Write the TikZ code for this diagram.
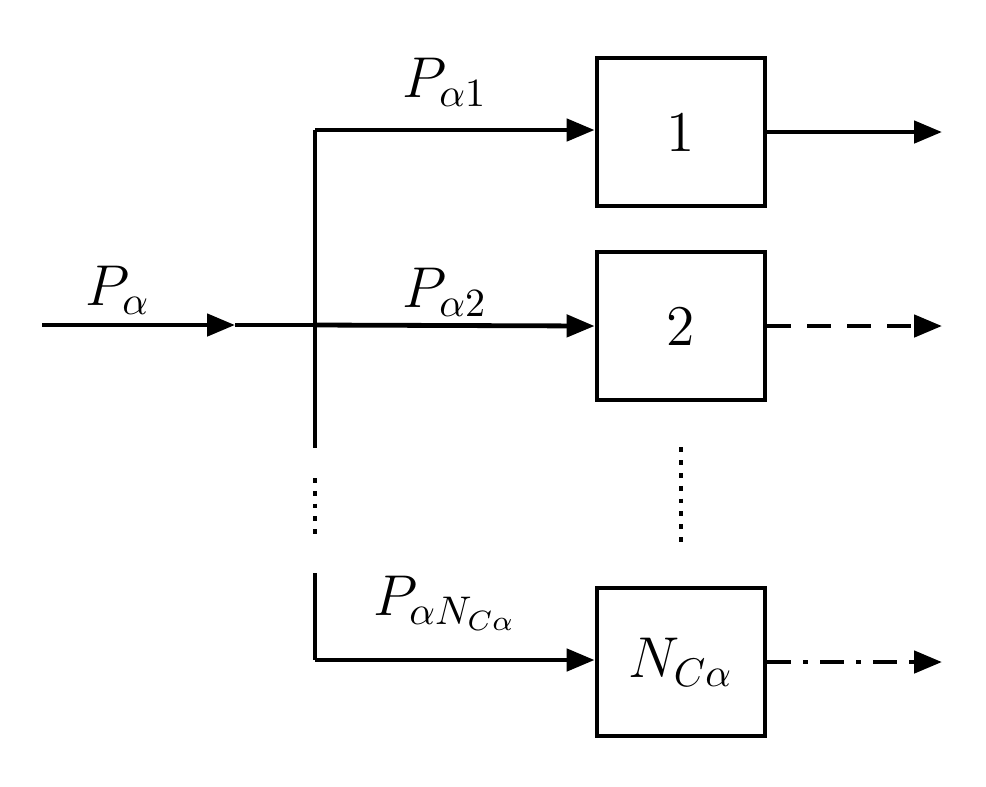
\documentclass[tikz,border=0pt]{standalone}
\usetikzlibrary{arrows.meta}
\begin{document}
\begin{tikzpicture}[x=0.25pt,y=-0.25pt,line width=1.2pt,
  arr/.style={-{Triangle[length=7pt,width=5.5pt]}},
  box/.style={draw,minimum width=42pt,minimum height=37pt,inner sep=0pt,font=\Large},
  lab/.style={font=\Large}]
\useasboundingbox (0,0) rectangle (986,786);
\node[box] (b1) at (681,132) {1};
\node[box] (b2) at (681,326) {2};
\node[box] (b3) at (681,662) {$N_{C\alpha}$};
\coordinate (in) at (42,325);
\coordinate (mid) at (235,325);
\coordinate (j) at (315,325);
\coordinate (top) at (315,130);
\coordinate (vend) at (315,448);
\coordinate (bstart) at (315,573);
\coordinate (bcorner) at (315,660);
\coordinate (o1) at (942,132);
\coordinate (o2) at (942,326);
\coordinate (o3) at (942,662);
\draw[arr] (in) -- (mid);
\draw (mid) -- (j);
\draw (top) -- (vend);
\draw[line width=1.2pt,dotted] (315,478) -- (315,535);
\draw (bstart) -- (bcorner);
\draw[arr] (top) -- (b1.west |- top);
\draw[arr] (j) -- (b2.west);
\draw[arr] (bcorner) -- (b3.west |- bcorner);
\draw[arr] (b1.east) -- (o1);
\draw[arr,dashed,dash pattern=on 6pt off 4pt] (b2.east) -- (o2);
\draw[arr,dash pattern=on 6pt off 3pt on 1.2pt off 3pt] (b3.east) -- (o3);
\draw[dotted] (b2.south) ++(0,45) coordinate (d1) (d1) -- ++(0,95);
\node[lab] (l0) at (118,290) {$P_\alpha$};
\node[lab] (l1) at (445,82) {$P_{\alpha1}$};
\node[lab] (l2) at (445,292) {$P_{\alpha2}$};
\node[lab] (l3) at (445,603) {$P_{\alpha N_{C\alpha}}$};
\end{tikzpicture}
\end{document}
